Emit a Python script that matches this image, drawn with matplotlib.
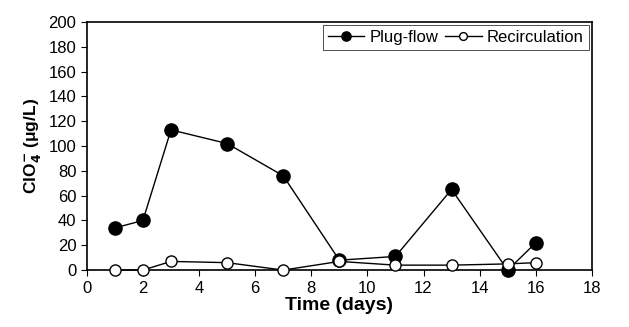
import matplotlib
matplotlib.use("Agg")
import matplotlib.pyplot as plt

days = [1, 2, 3, 5, 7, 9, 11, 13, 15, 16]
plug_flow = [34, 40, 113, 102, 76, 8, 11, 65, 0, 22]
recirculation = [0, 0, 7, 6, 0, 7, 4, 4, 5, 6]

plt.rcParams["font.family"] = ["Liberation Sans", "DejaVu Sans"]

fig = plt.figure(figsize=(6.29, 3.27), dpi=100)
ax = fig.add_axes([0.138, 0.174, 0.803, 0.759])

ax.plot(days, plug_flow, "-o", color="black", lw=1, markersize=9.5,
        markerfacecolor="black", label="Plug-flow", zorder=3)
ax.plot(days, recirculation, "-o", color="black", lw=1, markersize=8,
        markerfacecolor="white", label="Recirculation", zorder=3)

ax.set_xlim(0, 18)
ax.set_ylim(0, 200)
ax.set_xticks(range(0, 19, 2))
ax.set_yticks(range(0, 201, 20))
ax.tick_params(labelsize=12, direction="out", length=4, width=0.8)
for s in ax.spines.values():
    s.set_linewidth(1.2)
for m in ax.get_lines():
    m.set_clip_on(False)

ax.set_xlabel("Time (days)", fontsize=14, fontweight="bold", labelpad=1)
ax.set_ylabel("ClO$_\\mathbf{4}^\\mathbf{-}$ (μg/L)", fontsize=12.5, fontweight="bold")

leg = ax.legend(loc="upper right", ncol=2, fontsize=12, frameon=True, fancybox=False,
                edgecolor="black", handlelength=2.2, columnspacing=0.4, handletextpad=0.3,
                borderpad=0.3, borderaxespad=0.2, markerscale=0.7)
leg.get_frame().set_linewidth(0.6)

fig.savefig("out.png", dpi=100)
